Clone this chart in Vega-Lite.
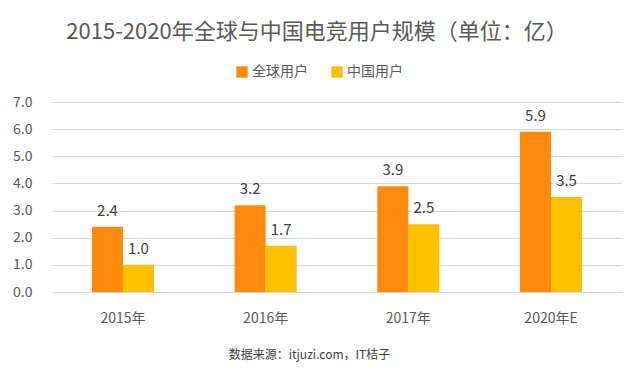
{
  "$schema": "https://vega.github.io/schema/vega-lite/v6.json",
  "autosize": {"type": "none"},
  "width": 570,
  "height": 190,
  "padding": {"left": 52, "top": 102, "right": 17, "bottom": 79},
  "background": "white",
  "config": {
    "font": "Noto Sans CJK SC",
    "view": {"stroke": null}
  },
  "title": {
    "text": "2015-2020年全球与中国电竞用户规模（单位：亿）",
    "anchor": "middle",
    "frame": "group",
    "dx": -20,
    "offset": 21,
    "fontSize": 22,
    "fontWeight": "normal",
    "color": "#595959"
  },
  "data": {
    "values": [
      {"year": "2015年", "series": "全球用户", "value": 2.4},
      {"year": "2015年", "series": "中国用户", "value": 1.0},
      {"year": "2016年", "series": "全球用户", "value": 3.2},
      {"year": "2016年", "series": "中国用户", "value": 1.7},
      {"year": "2017年", "series": "全球用户", "value": 3.9},
      {"year": "2017年", "series": "中国用户", "value": 2.5},
      {"year": "2020年E", "series": "全球用户", "value": 5.9},
      {"year": "2020年E", "series": "中国用户", "value": 3.5}
    ]
  },
  "encoding": {
    "x": {
      "field": "year",
      "type": "nominal",
      "sort": null,
      "scale": {"paddingInner": 0.565, "paddingOuter": 0.28},
      "axis": {
        "title": "数据来源：itjuzi.com，IT桔子",
        "titleFontSize": 12,
        "titleFontWeight": "normal",
        "titleColor": "#404040",
        "titlePadding": 24,
        "titleX": 257,
        "labelAngle": 0,
        "labelFontSize": 14,
        "labelColor": "#595959",
        "labelPadding": 19,
        "ticks": false,
        "domainColor": "#D9D9D9",
        "grid": false
      }
    },
    "xOffset": {"field": "series", "type": "nominal", "sort": ["全球用户", "中国用户"]},
    "y": {
      "field": "value",
      "type": "quantitative",
      "scale": {"domain": [0, 7]},
      "axis": {
        "title": null,
        "values": [0, 1, 2, 3, 4, 5, 6, 7],
        "format": ".1f",
        "labelFontSize": 14,
        "labelColor": "#595959",
        "labelPadding": 20,
        "ticks": false,
        "domain": false,
        "gridColor": "#D9D9D9"
      }
    }
  },
  "layer": [
    {
      "mark": {"type": "bar"},
      "encoding": {
        "color": {
          "field": "series",
          "type": "nominal",
          "sort": ["全球用户", "中国用户"],
          "scale": {"domain": ["全球用户", "中国用户"], "range": ["#FF8A0C", "#FFC000"]},
          "legend": {
            "title": null,
            "orient": "none",
            "legendX": 183,
            "legendY": -37,
            "direction": "horizontal",
            "symbolType": "square",
            "symbolSize": 130,
            "labelFontSize": 14,
            "labelColor": "#595959",
            "columnPadding": 22,
            "labelOffset": 3
          }
        }
      }
    },
    {
      "mark": {"type": "text", "dy": -16, "fontSize": 15, "color": "#404040"},
      "encoding": {
        "text": {"field": "value", "type": "quantitative", "format": ".1f"}
      }
    }
  ]
}
